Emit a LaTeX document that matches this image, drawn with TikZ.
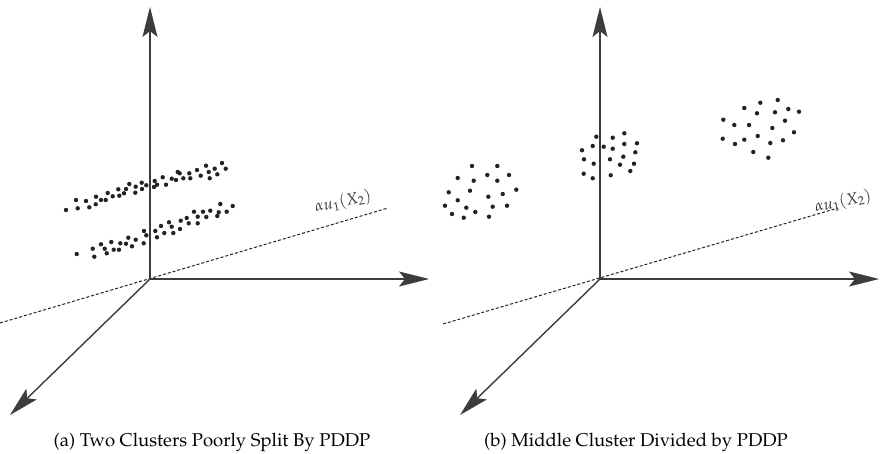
\documentclass[tikz,border=0pt]{standalone}
\usepackage[T1]{fontenc}
\usepackage{mathpazo}
\usepackage{tikz}
\usetikzlibrary{arrows.meta,positioning}
\definecolor{EixoCinza}{RGB}{60,60,60}
\definecolor{PontoEscuro}{RGB}{35,35,35}
\tikzset{
  eixo/.style={line width=1.4pt, EixoCinza,
               -{Stealth[length=30pt, width=15pt, inset=6pt]}},
  projecao/.style={line width=1pt, PontoEscuro, dash pattern=on 3pt off 2pt},
  ponto/.style={fill=PontoEscuro},
  rotproj/.style={font=\fontsize{16}{18}\selectfont, text=black!80, rotate=12, inner sep=0pt},
  legenda/.style={font=\fontsize{18.5}{21}\selectfont, inner sep=0pt},
}

\begin{document}
\begin{tikzpicture}[x=1pt, y=-1pt]
  \useasboundingbox (0,0) rectangle (882,454);

  % --- (a) eixos --------------------------------------------------------
  \coordinate (origA) at (150,279);
  \coordinate (vertA) at (150,7);
  \coordinate (horiA) at (429,279);
  \coordinate (diagA) at (10,415);
  \coordinate (projA0) at (0,323);
  \coordinate (projA1) at (388,208);

  \draw[projecao] (projA0) -- (projA1);
  \draw[eixo] (origA) -- (vertA);
  \draw[eixo] (origA) -- (horiA);
  \draw[eixo] (origA) -- (diagA);
  \node[rotproj] (rotA) at (343,202) {$\alpha u_1(X_2)$};

  % duas faixas de pontos
  \foreach \x/\y in {66/210, 76/200, 77.7/208.3, 86/201, 89.3/207.3, 96/196.7, 95.7/204.3,
      101/200, 105.7/200, 107.7/193, 112.7/196.3, 118.3/189.3, 119.3/195.7, 124/193.3,
      126/189, 129.3/184, 135.7/186.7, 135.3/192.7, 141.7/182.7, 142/189, 146.3/185.3,
      154.7/181, 154/187, 157/184.7, 162.7/177.3, 166/184.7, 171.7/178.7, 176/180,
      177.7/172, 179.7/173.3, 183.3/178.3, 189.3/173.3, 190.3/178.3, 197/170, 200.7/175.7,
      206/165.7, 208.7/172, 209.7/178.3, 214.7/168.7, 217.3/174.3, 222/163, 225.7/168.7}
    \fill[ponto] (\x,\y) circle (2.2pt);
  \foreach \x/\y in {76.7/254, 92.7/248.7, 94.3/256.7, 101/244.3, 104.7/248.7, 106.7/253.3,
      111.3/242, 113.7/249.7, 119/249.7, 120.3/243.3, 126/243.7, 128.3/237.7, 132/246.3,
      135.7/239.7, 144/231, 146.3/235.3, 143.7/243.3, 155.3/231, 157/237.3, 161/226,
      164.3/233, 169/222.3, 171.7/226.7, 173.3/233, 180/229, 180.7/220.7, 186.7/218,
      188.7/223.3, 194/211.7, 197.7/223.3, 197.7/216.7, 203/211.7, 206.3/217, 210.3/210.7,
      217.3/216, 218.7/212.3, 220.3/204, 226.7/211.7, 232.7/206}
    \fill[ponto] (\x,\y) circle (2.2pt);

  \node[legenda] (legA) at (212,442) {(a) Two Clusters Poorly Split By PDDP};

  % --- (b) eixos --------------------------------------------------------
  \coordinate (origB) at (600,279);
  \coordinate (vertB) at (600,7);
  \coordinate (horiB) at (879,279);
  \coordinate (diagB) at (460,415);
  \coordinate (projB0) at (443,324);
  \coordinate (projB1) at (838,208);

  \draw[projecao] (projB0) -- (projB1);
  \draw[eixo] (origB) -- (vertB);
  \draw[eixo] (origB) -- (horiB);
  \draw[eixo] (origB) -- (diagB);
  \node[rotproj] (rotB) at (843,202) {$\alpha u_1(X_2)$};

  % tres aglomerados
  \foreach \x/\y in {472/166, 497.3/166, 457.7/178, 487.3/175, 509/175, 473.7/180.7,
      497.3/180.7, 448.7/192.3, 470/190.7, 516.3/189.7, 502.7/194, 488.3/196.7,
      457.7/200.3, 445/205.7, 466.3/207.7, 492.7/206.7, 507/205.7, 475.3/212, 452/214,
      463.7/217.7, 489/216.7}
    \fill[ponto] (\x,\y) circle (2.2pt);
  \foreach \x/\y in {596.3/136.7, 612.7/137.7, 624.3/133.3, 592.7/146, 603.7/146.7,
      612.7/148.7, 624.3/144, 637/143.3, 582/150.3, 635.3/152.3, 584/159.3, 610/159.3,
      623.3/156.7, 593.7/163.7, 620/164.7, 634/163.7, 630.3/171, 583.7/173.7, 592.7/178.3,
      610.7/175.3}
    \fill[ponto] (\x,\y) circle (2.2pt);
  \foreach \x/\y in {760.3/102.7, 777.7/100, 744.3/108, 757/113.3, 775/112.3, 788.3/109,
      799/111.7, 723.3/119.7, 734.3/125, 749/125, 785/120.7, 772.3/128, 794/132.3,
      722.7/138.7, 735/144, 744.3/139.7, 757.7/136, 770.3/143, 783/140.3, 753.3/152,
      768.3/157.7}
    \fill[ponto] (\x,\y) circle (2.2pt);

  \node[legenda] (legB) at (636,442) {(b) Middle Cluster Divided by PDDP};
\end{tikzpicture}
\end{document}
